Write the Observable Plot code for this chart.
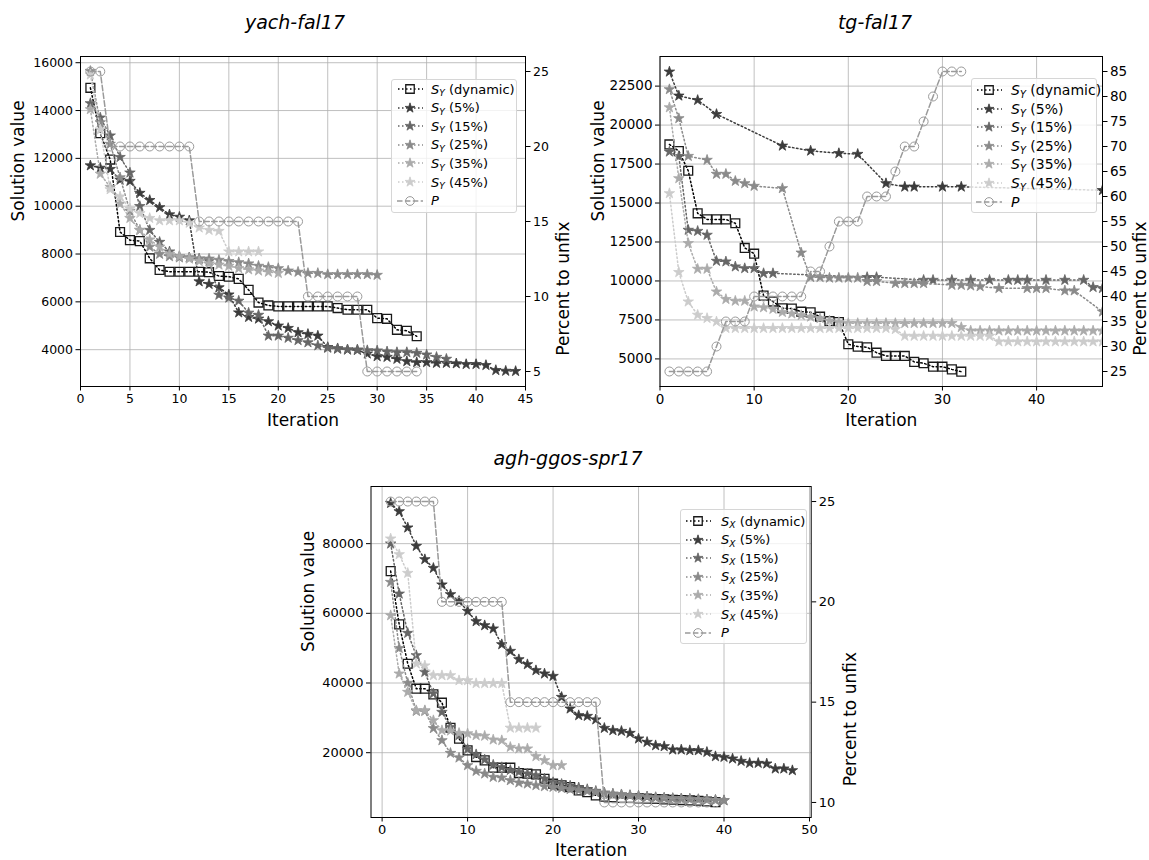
<!DOCTYPE html>
<html><head><meta charset="utf-8">
<script src="https://cdn.jsdelivr.net/npm/d3@7"></script>
<script src="https://cdn.jsdelivr.net/npm/@observablehq/plot@0.6"></script>
<style>
html,body{margin:0;padding:0;background:#fff;}
body{width:1149px;height:860px;position:relative;overflow:hidden;font-family:"DejaVu Sans",sans-serif;color:#000;}
.layer{position:absolute;}
.title{position:absolute;font-style:italic;font-size:19px;transform:translateX(-50%);white-space:nowrap;}
.legend{position:absolute;background:rgba(255,255,255,0.8);border:1px solid #d6d6d6;border-radius:3px;box-sizing:border-box;}
.legend .row{position:absolute;left:0;white-space:nowrap;display:flex;align-items:center;}
.legend svg{display:block;}
.legend .sub{font-size:70%;font-style:italic;position:relative;top:0.3em;}
</style></head><body>
<script>
// ---------------- yach-fal17 ----------------
const yachDynamic = [14950,13050,11950,8920,8580,8540,7820,7330,7260,7260,7260,7260,7240,7080,7050,6960,6500,5970,5850,5810,5810,5810,5810,5810,5810,5740,5670,5670,5670,5320,5290,4830,4790,4560];
const yach5  = [11700,11600,11550,11100,11050,10550,10250,9950,9650,9550,9400,6850,6740,6600,6300,5550,5360,5290,5180,5000,4900,4720,4650,4580,4100,4050,4000,3980,3830,3720,3690,3610,3510,3470,3470,3440,3440,3420,3390,3390,3350,3140,3110,3100];
const yach15 = [14300,13700,12950,12050,11400,10000,9000,8500,8100,7900,7850,7800,7700,6290,6170,6040,5540,5450,4580,4580,4490,4390,4300,4170,4070,4030,4000,4000,3970,3960,3920,3890,3890,3860,3790,3690,3610];
const yach25 = [15650,13500,12600,11200,9800,9000,8300,8000,7900,7850,7850,7800,7800,7750,7700,7650,7600,7500,7450,7400,7300,7250,7200,7200,7150,7150,7150,7150,7150,7120];
const yach35 = [14050,11350,10800,10100,9500,9000,8600,8300,8000,7900,7800,7700,7600,7550,7500,7400,7350,7300,7250,7200];
const yach45 = [15500,13200,10700,10400,9900,9700,9500,9400,9400,9400,9300,9100,9000,8960,8100,8100,8100,8100];
const yachP  = [25,25,20,20,20,20,20,20,20,20,20,15,15,15,15,15,15,15,15,15,15,15,10,10,10,10,10,10,5,5,5,5,5,5];

// ---------------- tg-fal17 ----------------
const tgDynamic = [18760,18330,17070,14340,13950,13950,13950,13700,12120,11750,9060,8680,8250,8230,8030,7990,7710,7420,7370,5940,5790,5750,5400,5190,5190,5190,4810,4720,4500,4500,4330,4180];
const tg5Iter = [1,2,4,6,13,16,19,21,24,26,27,30,32,47];
const tg5     = [23420,21880,21600,20700,18670,18350,18190,18140,16260,16040,16040,16040,16040,15820];
const tg15Iter = [1,2,3,4,5,6,7,8,9,10,11,12,22,23,28,29,31,33,35,37,38,39,41,43,45,46,47];
const tg15     = [18290,18000,13270,13200,12950,11280,11240,10920,10810,10810,10490,10490,10240,10240,10060,10060,10060,10060,10060,10060,10060,10060,10060,10060,10060,9600,9530];
const tg25Iter = [1,2,3,5,6,7,8,9,10,13,15,16,17,18,19,20,21,22,23,25,26,27,28,31,32,33,34,36,39,40,41,43,44,47];
const tg25     = [22290,20430,18010,17760,16860,16860,16410,16260,16090,15940,11810,10240,10240,10200,10200,10200,10200,9980,9980,9850,9850,9850,9850,9740,9740,9700,9650,9530,9530,9530,9530,9380,9380,8030];
const tg35 = [21130,16580,12420,10770,10770,9310,8830,8720,8720,8350,8300,8200,8000,7900,7800,7700,7600,7450,7350,7290,7290,7290,7290,7290,7290,7290,7290,7290,7290,7290,7290,7030,6810,6810,6810,6810,6810,6810,6810,6810,6810,6810,6810,6810,6810,6810,6810];
const tg45 = [15620,10560,8670,7820,7610,7390,6970,6970,6970,6970,6970,6970,6970,6970,6970,6970,6970,6970,6970,6970,6970,6970,6970,6970,6900,6470,6470,6470,6470,6470,6470,6470,6470,6470,6470,6110,6110,6110,6110,6110,6110,6110,6110,6110,6110,6110,6110];
const tgP = [25,25,25,25,25,30,35,35,35,40,40,40,40,40,40,45,45,50,55,55,55,60,60,60,65,70,70,75,80,85,85,85];

// ---------------- agh-ggos-spr17 ----------------
const aghDynamic = [72120,56820,45540,38370,38370,36730,34350,27170,24020,20660,18740,17790,15700,15700,15700,14150,13970,13770,12530,11100,10620,10130,9180,8690,7740,7400,7200,7000,7000,6900,6800,6700,6600,6500,6400,6300,6200,6000,5800];
const agh5  = [91630,89250,84580,79300,75480,72980,68220,65430,63510,60640,57680,56530,55590,51080,49160,46770,45340,43620,42670,41980,35960,32630,30710,30500,29500,27060,26400,26200,25630,24020,23040,22090,21810,20860,20860,20660,20660,20170,18940,18740,18280,17590,17020,17020,16840,15410,15410,14920];
const agh15 = [79980,65600,54330,47930,43130,37000,31650,27350,25000,21000,19500,18000,16500,15800,15000,14500,14000,13500,12500,11500,11000,10500,10000,9500,9000,8500,8200,8000,7800,7600,7400,7200,7000,6900,6800,6700,6600,6500,6400,6300];
const agh25 = [68960,50000,40000,31940,31940,27000,23530,19890,18570,16360,14720,13970,13000,12830,12050,11390,11100,10620,10330,10130,9800,9500,9200,9000,8700,8400,8100,7900,7700,7500,7300,7100,7000,6900,6800,6700,6600,6500,6400,6300];
const agh35 = [59400,42670,37400,32140,32140,29270,26400,26300,25630,25500,24970,24800,23730,23530,21610,21150,21150,18940,17790,16360,16360];
const agh45 = [81420,76910,71550,45540,45000,42180,42180,42180,40740,40740,39900,39900,39900,39900,27120,27120,27120,27120];
const aghP  = [25,25,25,25,25,25,20,20,20,20,20,20,20,20,15,15,15,15,15,15,15,15,15,15,15,10,10,10,10,10,10,10,10,10,10,10,10,10,10];

// labels / styling
const seriesLabels = ["dynamic","5%","15%","25%","35%","45%"];
const grays = ["#000000","#3c3c3c","#666666","#8a8a8a","#ababab","#cccccc"];
const pColor = "#9a9a9a";

function pts(values, iters){ return values.map((v,i)=>({x: iters ? iters[i] : i+1, y: v})); }

function buildPanel(cfg){
  const f = cfg.frame;
  const mL = f.x0 - cfg.left, mR = cfg.left + cfg.width - f.x1, mT = f.y0 - cfg.top, mB = cfg.top + cfg.height - f.y1;
  const common = {width: cfg.width, height: cfg.height, marginLeft: mL, marginRight: mR, marginTop: mT, marginBottom: mB,
    style: {fontFamily: "DejaVu Sans", fontSize: cfg.fs + "px", color: "#000", background: "transparent", overflow: "visible"}};
  const marks = [
    Plot.gridX(cfg.xTicks, {stroke: "#b0b0b0", strokeOpacity: 1, strokeWidth: 0.8}),
    Plot.gridY(cfg.yTicks, {stroke: "#b0b0b0", strokeOpacity: 1, strokeWidth: 0.8})
  ];
  cfg.series.forEach((s, k) => {
    const d = pts(s.values, s.iters);
    const c = grays[k];
    marks.push(Plot.line(d, {x: "x", y: "y", stroke: c, strokeWidth: 1.5, strokeDasharray: "1.5 2.5", clip: true}));
    if (k === 0) marks.push(Plot.dot(d, {x: "x", y: "y", symbol: "square", r: 5, fill: "none", stroke: "#1a1a1a", strokeWidth: 1.3, clip: true}));
    else marks.push(Plot.dot(d, {x: "x", y: "y", symbol: "star", r: 3.3, fill: c, stroke: c, strokeWidth: 0.8, clip: true}));
  });
  marks.push(
    Plot.frame({stroke: "#000", strokeWidth: 1}),
    Plot.axisX(cfg.xTicks, {anchor: "bottom", tickSize: 4.5, tickPadding: 3, tickFormat: "d", label: null, fontSize: cfg.fs}),
    Plot.axisY(cfg.yTicks, {anchor: "left", tickSize: 4.5, tickPadding: 3, tickFormat: "d", label: null, fontSize: cfg.fs}),
    Plot.text(["Iteration"], {frameAnchor: "bottom", dy: cfg.xLabDy, fontSize: 17}),
    Plot.text(["Solution value"], {frameAnchor: "left", dx: cfg.yLabDx, rotate: -90, fontSize: 17})
  );
  const base = Plot.plot({...common, x: {domain: cfg.xDomain}, y: {domain: cfg.yDomain}, marks});
  const pd = pts(cfg.p);
  const over = Plot.plot({...common, x: {domain: cfg.xDomain, axis: null}, y: {domain: cfg.pDomain}, marks: [
    Plot.line(pd, {x: "x", y: "y", stroke: pColor, strokeWidth: 1.5, strokeDasharray: "5.5 2.4", clip: true}),
    Plot.dot(pd, {x: "x", y: "y", symbol: "circle", r: 4.5, fill: "none", stroke: pColor, strokeWidth: 1, clip: true}),
    Plot.axisY(cfg.pTicks, {anchor: "right", tickSize: 4.5, tickPadding: 3, tickFormat: "d", label: null, fontSize: cfg.fsR || cfg.fs}),
    Plot.text(["Percent to unfix"], {frameAnchor: "right", dx: cfg.pLabDx, rotate: -90, fontSize: 17})
  ]});
  for (const svg of [base, over]) {
    const wrap = document.createElement("div");
    wrap.className = "layer";
    wrap.style.left = cfg.left + "px"; wrap.style.top = cfg.top + "px";
    wrap.appendChild(svg);
    document.body.appendChild(wrap);
  }
  const t = document.createElement("div");
  t.className = "title"; t.textContent = cfg.title;
  t.style.left = cfg.titleX + "px"; t.style.top = cfg.titleY + "px";
  document.body.appendChild(t);
  const L = cfg.legend;
  const lg = document.createElement("div");
  lg.className = "legend";
  Object.assign(lg.style, {left: L.x + "px", top: L.y + "px", width: L.w + "px", height: L.h + "px", fontSize: L.fs + "px"});
  const star = d3.symbol(d3.symbolStar, 30)();
  const sq = d3.symbol(d3.symbolSquare, 72)();
  const circ = d3.symbol(d3.symbolCircle, 60)();
  const entries = seriesLabels.map((lab, k) => ({k, lab})).concat([{k: 6, lab: "P"}]);
  entries.forEach(({k, lab}, i) => {
    const row = document.createElement("div");
    row.className = "row";
    row.style.top = (L.row0 + i * L.dy - L.y - 8) + "px";
    row.style.height = "16px";
    row.style.left = (L.sx - L.x) + "px";
    let sw;
    if (k === 6) sw = `<svg width="26" height="16"><line x1="0" x2="26" y1="8" y2="8" stroke="${pColor}" stroke-width="1.5" stroke-dasharray="5.5 2.4"/><path d="${circ}" transform="translate(13,8)" fill="none" stroke="${pColor}"/></svg>`;
    else if (k === 0) sw = `<svg width="26" height="16"><line x1="1" x2="26" y1="8" y2="8" stroke="#000" stroke-width="1.5" stroke-dasharray="1.5 2.5"/><path d="${sq}" transform="translate(13,8)" fill="none" stroke="#1a1a1a" stroke-width="1.3"/></svg>`;
    else sw = `<svg width="26" height="16"><line x1="1" x2="26" y1="8" y2="8" stroke="${grays[k]}" stroke-width="1.5" stroke-dasharray="1.5 2.5"/><path d="${star}" transform="translate(13,8)" fill="${grays[k]}" stroke="${grays[k]}" stroke-width="0.8"/></svg>`;
    const txt = k === 6 ? `<i>P</i>` : `<i>S</i><span class="sub">${cfg.sub}</span> (${lab})`;
    row.innerHTML = sw + `<span style="margin-left:${L.gap}px">${txt}</span>`;
    lg.appendChild(row);
  });
  document.body.appendChild(lg);
}

buildPanel({
  title: "yach-fal17", titleX: 295, titleY: 11, sub: "Y",
  left: 0, top: 40, width: 580, height: 400, frame: {x0: 80, x1: 525, y0: 56, y1: 386},
  xDomain: [0, 45], yDomain: [2460, 16260], pDomain: [4, 26],
  xTicks: [0,5,10,15,20,25,30,35,40,45], yTicks: [4000,6000,8000,10000,12000,14000,16000], pTicks: [5,10,15,20,25],
  fs: 12.5, xLabDy: 39, yLabDx: -62, pLabDx: 38,
  series: [{values: yachDynamic},{values: yach5},{values: yach15},{values: yach25},{values: yach35},{values: yach45}],
  p: yachP,
  legend: {x: 391, y: 79, w: 126, h: 134, fs: 13, row0: 88, dy: 18.6, sx: 396, gap: 8}
});
buildPanel({
  title: "tg-fal17", titleX: 875, titleY: 11, sub: "Y",
  left: 580, top: 40, width: 569, height: 400, frame: {x0: 659.5, x1: 1102, y0: 56, y1: 386},
  xDomain: [0, 47], yDomain: [3230, 24400], pDomain: [22, 88],
  xTicks: [0,10,20,30,40], yTicks: [5000,7500,10000,12500,15000,17500,20000,22500], pTicks: [25,30,35,40,45,50,55,60,65,70,75,80,85],
  fs: 13.5, xLabDy: 39, yLabDx: -61.5, pLabDx: 38,
  series: [{values: tgDynamic},{values: tg5, iters: tg5Iter},{values: tg15, iters: tg15Iter},{values: tg25, iters: tg25Iter},{values: tg35},{values: tg45}],
  p: tgP,
  legend: {x: 971, y: 78, w: 126, h: 135, fs: 14, row0: 89, dy: 18.6, sx: 975, gap: 9}
});
buildPanel({
  title: "agh-ggos-spr17", titleX: 568, titleY: 447, sub: "X",
  left: 280, top: 470, width: 600, height: 390, frame: {x0: 370.5, x1: 810.7, y0: 486, y1: 817},
  xDomain: [-1.3, 50.2], yDomain: [1400, 96400], pDomain: [9.25, 25.75],
  xTicks: [0,10,20,30,40,50], yTicks: [20000,40000,60000,80000], pTicks: [10,15,20,25],
  fs: 13, xLabDy: 38, yLabDx: -62.5, pLabDx: 39,
  series: [{values: aghDynamic},{values: agh5},{values: agh15},{values: agh25},{values: agh35},{values: agh45}],
  p: aghP,
  legend: {x: 680, y: 509, w: 127, h: 135, fs: 13, row0: 520, dy: 18.6, sx: 684, gap: 10}
});
</script>
</body></html>
